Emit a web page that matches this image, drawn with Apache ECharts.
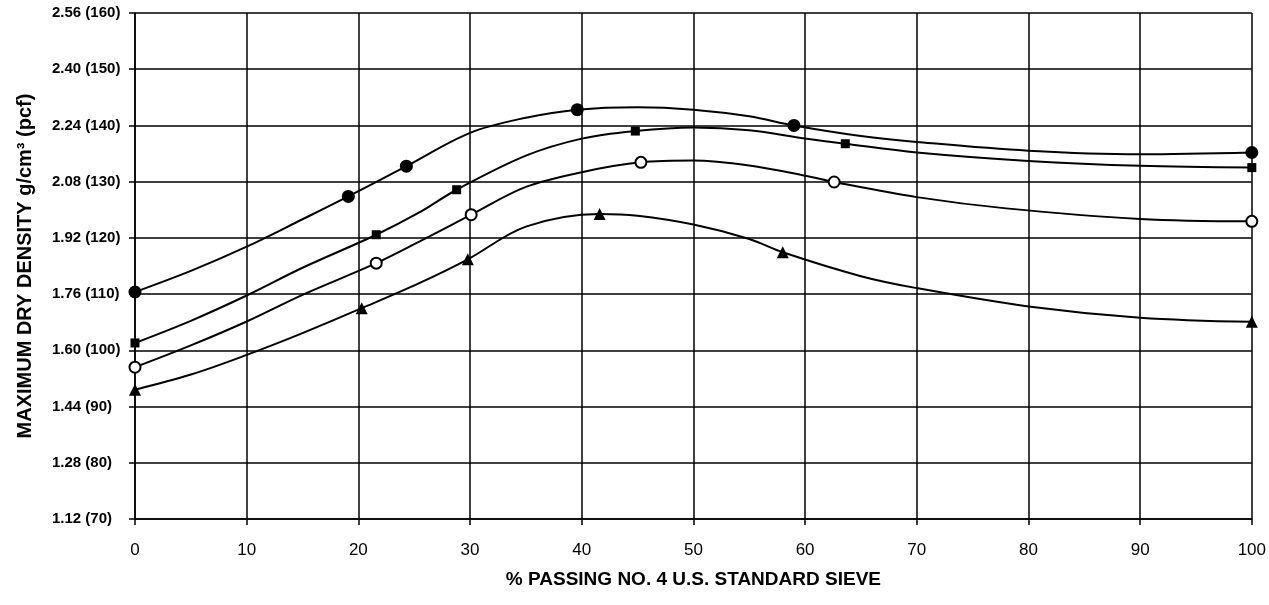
<!DOCTYPE html>
<html>
<head>
<meta charset="utf-8">
<script src="https://cdn.jsdelivr.net/npm/echarts@6/dist/echarts.min.js"></script>
<style>
  html, body { margin: 0; padding: 0; background: #fff; }
  #chart { width: 1269px; height: 605px; }
</style>
</head>
<body>
<div id="chart"></div>
<script>
// Maximum dry density vs. % passing No. 4 sieve, four soil mixes
const xTicks = [0, 10, 20, 30, 40, 50, 60, 70, 80, 90, 100];
const yTicks = [1.12, 1.28, 1.44, 1.60, 1.76, 1.92, 2.08, 2.24, 2.40, 2.56];

// Test points: [% passing, density g/cm3]
const pointsA = [[0, 1.766], [19.1, 2.038], [24.3, 2.124], [39.6, 2.285], [59.0, 2.240], [100, 2.163]]; // filled circles
const pointsB = [[0, 1.621], [21.6, 1.929], [28.8, 2.057], [44.8, 2.224], [63.6, 2.188], [100, 2.120]]; // filled squares
const pointsC = [[0, 1.552], [21.6, 1.848], [30.1, 1.986], [45.3, 2.135], [62.6, 2.079], [100, 1.967]]; // open circles
const pointsD = [[0, 1.488], [20.3, 1.720], [29.8, 1.859], [41.6, 1.988], [58.0, 1.879], [100, 1.681]]; // triangles

// Hand-fitted curves through each set of test points
const curveA = [[0, 1.766], [5, 1.826], [10, 1.895], [15, 1.973], [19.1, 2.038], [24.3, 2.124], [30, 2.219], [35, 2.262],
  [39.6, 2.285], [45, 2.292], [50, 2.285], [55, 2.266], [59.0, 2.240], [65, 2.210], [70, 2.193], [80, 2.168], [90, 2.158], [100, 2.163]];
const curveB = [[0, 1.621], [5, 1.684], [10, 1.756], [15, 1.835], [21.6, 1.929], [25.5, 1.993], [28.8, 2.057], [35, 2.154],
  [40, 2.2025], [44.8, 2.224], [50, 2.234], [55, 2.226], [60, 2.203], [63.6, 2.188], [70, 2.163], [80, 2.139], [90, 2.125], [100, 2.120]];
const curveC = [[0, 1.552], [5, 1.614], [10, 1.682], [15, 1.758], [21.6, 1.848], [25.5, 1.910], [30.1, 1.986], [35, 2.065],
  [40, 2.107], [45.3, 2.135], [50, 2.140], [55, 2.126], [60, 2.097], [62.6, 2.079], [70, 2.036], [78, 2.004], [90, 1.974], [100, 1.967]];
const curveD = [[0, 1.488], [5, 1.531], [10, 1.587], [15, 1.649], [20.3, 1.720], [25.5, 1.792], [29.8, 1.859], [35, 1.952],
  [41.6, 1.988], [45, 1.983], [50, 1.958], [55, 1.917], [58.0, 1.879], [65, 1.811], [70, 1.777], [80, 1.725], [90, 1.693], [100, 1.681]];

const PCF = 0.016; // g/cm3 per pcf

const chart = echarts.init(document.getElementById('chart'));
const fontFam = '"Liberation Sans", Arial, Helvetica, sans-serif';

function curve(data) {
  return {
    type: 'line', data, smooth: 0.35, showSymbol: false, symbol: 'none',
    lineStyle: { color: '#000', width: 2 }, z: 4, silent: true
  };
}
function marks(data, symbol, size) {
  const hollow = symbol === 'emptyCircle';
  return {
    type: 'scatter', data, symbol, symbolSize: size,
    itemStyle: { color: '#000', borderColor: '#000', borderWidth: hollow ? 1.6 : 0, opacity: 1 },
    z: 6
  };
}

chart.setOption({
  animation: false,
  backgroundColor: '#fff',
  grid: { left: 135, right: 12, top: 13, bottom: 86 },
  xAxis: {
    type: 'value', min: 0, max: 100, interval: 10,
    name: '% PASSING NO. 4 U.S. STANDARD SIEVE',
    nameLocation: 'middle', nameGap: 51,
    nameTextStyle: { fontFamily: fontFam, fontWeight: 'bold', fontSize: 19, color: '#000' },
    axisLine: { show: true, lineStyle: { color: '#000', width: 1.5 } },
    axisTick: { show: true, inside: false, length: 6, lineStyle: { color: '#000', width: 1.5 } },
    axisLabel: { fontFamily: fontFam, fontSize: 17, color: '#000', margin: 23, customValues: xTicks },
    splitLine: { show: true, lineStyle: { color: '#000', width: 1.5 } }
  },
  yAxis: {
    type: 'value', min: 1.12, max: 2.56, interval: 0.16,
    name: 'MAXIMUM DRY DENSITY g/cm\u00B3 (pcf)',
    nameLocation: 'middle', nameGap: 100, nameRotate: 90,
    nameTextStyle: { fontFamily: fontFam, fontWeight: 'bold', fontSize: 20, color: '#000' },
    axisLine: { show: true, lineStyle: { color: '#000', width: 1.5 } },
    axisTick: { show: true, inside: false, length: 6, lineStyle: { color: '#000', width: 1.5 } },
    axisLabel: {
      fontFamily: fontFam, fontSize: 15, fontWeight: 'bold', color: '#000',
      align: 'left', margin: 83,
      customValues: yTicks,
      formatter: v => v.toFixed(2) + ' (' + Math.round(v / PCF) + ')'
    },
    splitLine: { show: true, lineStyle: { color: '#000', width: 1.5 } }
  },
  series: [
    curve(curveA), curve(curveB), curve(curveC), curve(curveD),
    marks(pointsA, 'circle', 13),
    marks(pointsB, 'rect', 9),
    marks(pointsC, 'emptyCircle', 11),
    marks(pointsD, 'triangle', 12)
  ]
});
</script>
</body>
</html>
